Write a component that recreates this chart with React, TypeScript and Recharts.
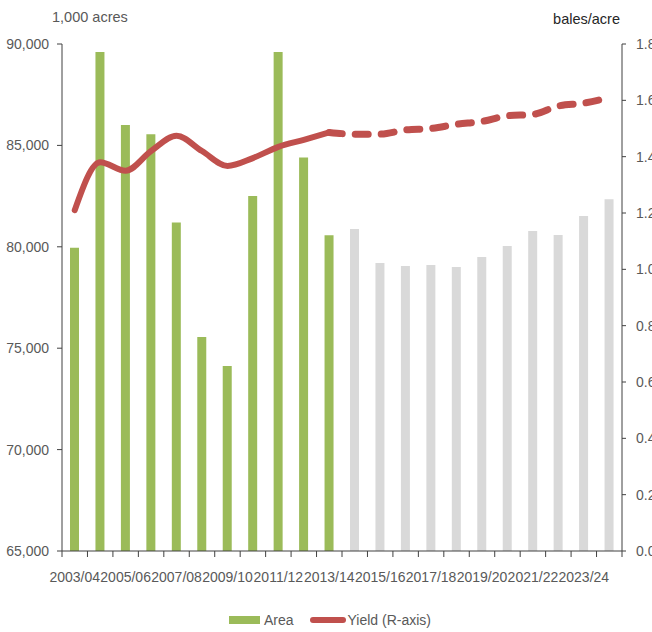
import {
  Bar,
  Cell,
  ComposedChart,
  Legend,
  Line,
  XAxis,
  YAxis,
} from "recharts";

const years = [
  "2003/04", "2004/05", "2005/06", "2006/07", "2007/08", "2008/09",
  "2009/10", "2010/11", "2011/12", "2012/13", "2013/14", "2014/15",
  "2015/16", "2016/17", "2017/18", "2018/19", "2019/20", "2020/21",
  "2021/22", "2022/23", "2023/24", "2024/25",
];

// 1,000 acres
const area = [
  79950, 89600, 86000, 85550, 81200, 75550, 74120, 82500, 89600, 84400,
  80570, 80880, 79200, 79050, 79100, 79000, 79500, 80040, 80780, 80580,
  81520, 82350,
];

// bales/acre, actual through 2013/14
const yieldActual = [
  1.21, 1.38, 1.35, 1.42, 1.474, 1.42, 1.367, 1.395, 1.435, 1.46, 1.486,
];

// bales/acre, projection from 2013/14
const yieldProjected = [
  1.486, 1.48, 1.48, 1.495, 1.5, 1.515, 1.525, 1.545, 1.55, 1.58, 1.59, 1.61,
];

const projectionStart = 11;
const leftTicks = [65000, 70000, 75000, 80000, 85000, 90000];
const rightTicks = [0, 0.2, 0.4, 0.6, 0.8, 1.0, 1.2, 1.4, 1.6, 1.8];

const GREEN = "#9bbb59";
const GREY = "#d9d9d9";
const RED = "#c0504d";
const AXIS = "#404040";
const TEXT = "#595959";
const FONT = "'Liberation Sans', Arial, sans-serif";
const FS = 14;

const data = years.map((year, i) => ({
  year,
  area: area[i],
  actual: i < yieldActual.length ? yieldActual[i] : null,
  projected:
    i >= yieldActual.length - 1
      ? yieldProjected[i - (yieldActual.length - 1)]
      : null,
}));

function YearTick(props: any) {
  const { x, y, payload, index } = props;
  const half = payload.offset ?? 0;
  return (
    <g>
      <line x1={x - half} x2={x - half} y1={y} y2={y + 6} stroke={AXIS} />
      {index === years.length - 1 && (
        <line x1={x + half} x2={x + half} y1={y} y2={y + 6} stroke={AXIS} />
      )}
      {index % 2 === 0 && (
        <text
          x={x}
          y={y + 27}
          textAnchor="middle"
          dominantBaseline="middle"
          fill={TEXT}
          fontSize={FS}
          fontFamily={FONT}
        >
          {payload.value}
        </text>
      )}
    </g>
  );
}

function ChartLegend() {
  return (
    <div
      style={{
        display: "flex",
        justifyContent: "center",
        alignItems: "center",
        fontFamily: FONT,
        fontSize: FS,
        color: TEXT,
        paddingLeft: 8,
      }}
    >
      <span style={{ width: 31, height: 8, background: GREEN, marginRight: 4 }} />
      <span style={{ marginRight: 16 }}>Area</span>
      <span
        style={{
          width: 36,
          height: 6,
          borderRadius: 3,
          background: RED,
          marginRight: 2,
        }}
      />
      <span>Yield (R-axis)</span>
    </div>
  );
}

export default function App() {
  return (
    <div
      style={{
        position: "absolute",
        left: 0,
        top: 0,
        width: 652,
        height: 632,
        overflow: "hidden",
        background: "#fff",
      }}
    >
      <div
        style={{
          position: "absolute",
          left: 52,
          top: 9,
          fontFamily: FONT,
          fontSize: 14.5,
          color: TEXT,
        }}
      >
        1,000 acres
      </div>
      <div
        style={{
          position: "absolute",
          right: 32,
          top: 11,
          fontFamily: FONT,
          fontSize: 14.5,
          color: "#262626",
        }}
      >
        bales/acre
      </div>
      <ComposedChart
        width={652}
        height={632}
        data={data}
        margin={{ top: 44, right: 0, bottom: 0, left: 0 }}
        barCategoryGap={0}
      >
        <XAxis
          dataKey="year"
          interval={0}
          height={61}
          tickSize={0}
          tickMargin={0}
          tickLine={false}
          axisLine={{ stroke: AXIS }}
          tick={<YearTick />}
        />
        <YAxis
          yAxisId="left"
          width={62}
          domain={[65000, 90000]}
          ticks={leftTicks}
          allowDataOverflow
          axisLine={{ stroke: AXIS }}
          tickLine={{ stroke: AXIS }}
          tickSize={5}
          tickMargin={8}
          tickFormatter={(v: number) => v.toLocaleString("en-US")}
          tick={{ fill: TEXT, fontSize: FS, fontFamily: FONT }}
        />
        <YAxis
          yAxisId="right"
          orientation="right"
          width={30}
          domain={[0, 1.8]}
          ticks={rightTicks}
          axisLine={{ stroke: AXIS }}
          tickLine={{ stroke: AXIS }}
          tickSize={4}
          tickMargin={10}
          tickFormatter={(v: number) => v.toFixed(2)}
          tick={{ fill: TEXT, fontSize: FS, fontFamily: FONT, textAnchor: "start" }}
        />
        <Legend
          verticalAlign="bottom"
          height={20}
          content={<ChartLegend />}
        />
        <Bar
          yAxisId="left"
          dataKey="area"
          name="Area"
          barSize={9}
          fill={GREEN}
          isAnimationActive={false}
        >
          {data.map((_, i) => (
            <Cell key={i} fill={i < projectionStart ? GREEN : GREY} />
          ))}
        </Bar>
        <Line
          yAxisId="right"
          dataKey="actual"
          name="Yield (R-axis)"
          type="monotone"
          stroke={RED}
          strokeWidth={6}
          strokeLinecap="round"
          dot={false}
          activeDot={false}
          isAnimationActive={false}
        />
        <Line
          yAxisId="right"
          dataKey="projected"
          type="monotone"
          stroke={RED}
          strokeWidth={7}
          strokeDasharray="13 13"
          strokeLinecap="round"
          dot={false}
          activeDot={false}
          legendType="none"
          isAnimationActive={false}
        />
      </ComposedChart>
    </div>
  );
}
